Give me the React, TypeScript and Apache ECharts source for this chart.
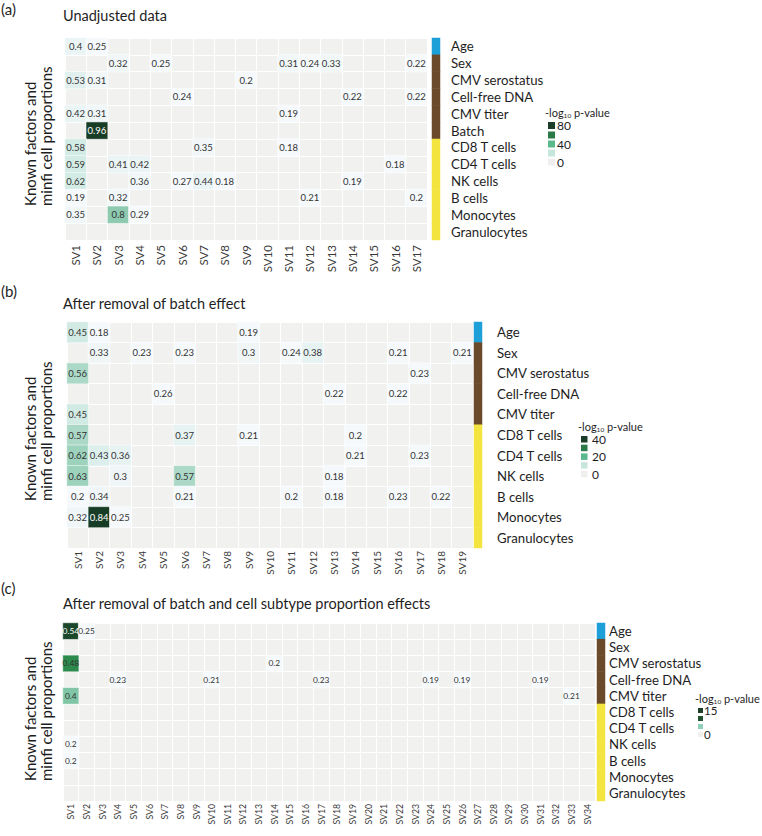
import React, { useEffect, useRef } from "react";
import * as echarts from "echarts";

// ---------- data ----------
const FACTORS_A = ["Age", "Sex", "CMV serostatus", "Cell-free DNA", "CMV titer", "Batch", "CD8 T cells", "CD4 T cells", "NK cells", "B cells", "Monocytes", "Granulocytes"];
const GROUPS_A = ["age", "known", "known", "known", "known", "known", "cell", "cell", "cell", "cell", "cell", "cell"];
const FACTORS_BC = ["Age", "Sex", "CMV serostatus", "Cell-free DNA", "CMV titer", "CD8 T cells", "CD4 T cells", "NK cells", "B cells", "Monocytes", "Granulocytes"];
const GROUPS_BC = ["age", "known", "known", "known", "known", "cell", "cell", "cell", "cell", "cell", "cell"];
const GROUP_KEYS = ["age", "known", "cell"];

const SV_A = ["SV1", "SV2", "SV3", "SV4", "SV5", "SV6", "SV7", "SV8", "SV9", "SV10", "SV11", "SV12", "SV13", "SV14", "SV15", "SV16", "SV17"];
const SV_B = ["SV1", "SV2", "SV3", "SV4", "SV5", "SV6", "SV7", "SV8", "SV9", "SV10", "SV11", "SV12", "SV13", "SV14", "SV15", "SV16", "SV17", "SV18", "SV19"];
const SV_C = ["SV1", "SV2", "SV3", "SV4", "SV5", "SV6", "SV7", "SV8", "SV9", "SV10", "SV11", "SV12", "SV13", "SV14", "SV15", "SV16", "SV17", "SV18", "SV19", "SV20", "SV21", "SV22", "SV23", "SV24", "SV25", "SV26", "SV27", "SV28", "SV29", "SV30", "SV31", "SV32", "SV33", "SV34"];

// [SV, factor, displayed value]
const CELLS_A: [string, string, number][] = [
  ["SV1", "Age", 0.4], ["SV2", "Age", 0.25],
  ["SV3", "Sex", 0.32], ["SV5", "Sex", 0.25], ["SV11", "Sex", 0.31], ["SV12", "Sex", 0.24], ["SV13", "Sex", 0.33], ["SV17", "Sex", 0.22],
  ["SV1", "CMV serostatus", 0.53], ["SV2", "CMV serostatus", 0.31], ["SV9", "CMV serostatus", 0.2],
  ["SV6", "Cell-free DNA", 0.24], ["SV14", "Cell-free DNA", 0.22], ["SV17", "Cell-free DNA", 0.22],
  ["SV1", "CMV titer", 0.42], ["SV2", "CMV titer", 0.31], ["SV11", "CMV titer", 0.19],
  ["SV2", "Batch", 0.96],
  ["SV1", "CD8 T cells", 0.58], ["SV7", "CD8 T cells", 0.35], ["SV11", "CD8 T cells", 0.18],
  ["SV1", "CD4 T cells", 0.59], ["SV3", "CD4 T cells", 0.41], ["SV4", "CD4 T cells", 0.42], ["SV16", "CD4 T cells", 0.18],
  ["SV1", "NK cells", 0.62], ["SV4", "NK cells", 0.36], ["SV6", "NK cells", 0.27], ["SV7", "NK cells", 0.44], ["SV8", "NK cells", 0.18], ["SV14", "NK cells", 0.19],
  ["SV1", "B cells", 0.19], ["SV3", "B cells", 0.32], ["SV12", "B cells", 0.21], ["SV17", "B cells", 0.2],
  ["SV1", "Monocytes", 0.35], ["SV3", "Monocytes", 0.8], ["SV4", "Monocytes", 0.29],
];

const CELLS_B: [string, string, number][] = [
  ["SV1", "Age", 0.45], ["SV2", "Age", 0.18], ["SV9", "Age", 0.19],
  ["SV2", "Sex", 0.33], ["SV4", "Sex", 0.23], ["SV6", "Sex", 0.23], ["SV9", "Sex", 0.3], ["SV11", "Sex", 0.24], ["SV12", "Sex", 0.38], ["SV16", "Sex", 0.21], ["SV19", "Sex", 0.21],
  ["SV1", "CMV serostatus", 0.56], ["SV17", "CMV serostatus", 0.23],
  ["SV5", "Cell-free DNA", 0.26], ["SV13", "Cell-free DNA", 0.22], ["SV16", "Cell-free DNA", 0.22],
  ["SV1", "CMV titer", 0.45],
  ["SV1", "CD8 T cells", 0.57], ["SV6", "CD8 T cells", 0.37], ["SV9", "CD8 T cells", 0.21], ["SV14", "CD8 T cells", 0.2],
  ["SV1", "CD4 T cells", 0.62], ["SV2", "CD4 T cells", 0.43], ["SV3", "CD4 T cells", 0.36], ["SV14", "CD4 T cells", 0.21], ["SV17", "CD4 T cells", 0.23],
  ["SV1", "NK cells", 0.63], ["SV3", "NK cells", 0.3], ["SV6", "NK cells", 0.57], ["SV13", "NK cells", 0.18],
  ["SV1", "B cells", 0.2], ["SV2", "B cells", 0.34], ["SV6", "B cells", 0.21], ["SV11", "B cells", 0.2], ["SV13", "B cells", 0.18], ["SV16", "B cells", 0.23], ["SV18", "B cells", 0.22],
  ["SV1", "Monocytes", 0.32], ["SV2", "Monocytes", 0.84], ["SV3", "Monocytes", 0.25],
];

const CELLS_C: [string, string, number][] = [
  ["SV1", "Age", 0.54], ["SV2", "Age", 0.25],
  ["SV1", "CMV serostatus", 0.48], ["SV14", "CMV serostatus", 0.2],
  ["SV4", "Cell-free DNA", 0.23], ["SV10", "Cell-free DNA", 0.21], ["SV17", "Cell-free DNA", 0.23], ["SV24", "Cell-free DNA", 0.19], ["SV26", "Cell-free DNA", 0.19], ["SV31", "Cell-free DNA", 0.19],
  ["SV1", "CMV titer", 0.4], ["SV33", "CMV titer", 0.21],
  ["SV1", "NK cells", 0.2],
  ["SV1", "B cells", 0.2],
];

const LEGEND_A = ["80", "40", "0"];
const LEGEND_B = ["40", "20", "0"];
const LEGEND_C = ["15", "0"];

// ---------- styles ----------
const FONT = "Lato, 'Noto Sans', sans-serif";
const BG = "#f1f2ef";
const GROUP_COLORS = ["#1d9fd8", "#6b4a2c", "#f4e440"];

const PIECES_A = [
  { lt: 0.3, color: "#f6f9fb" },
  { gte: 0.3, lt: 0.38, color: "#f1f7f8" },
  { gte: 0.38, lt: 0.5, color: "#eaf4f5" },
  { gte: 0.5, lt: 0.56, color: "#e1f0ef" },
  { gte: 0.56, lt: 0.7, color: "#d3ebe5" },
  { gte: 0.7, lt: 0.9, color: "#8dcab0" },
  { gte: 0.9, color: "#183d26" },
];
const PIECES_B = [
  { lt: 0.28, color: "#f6f9fb" },
  { gte: 0.28, lt: 0.35, color: "#f0f6f7" },
  { gte: 0.35, lt: 0.4, color: "#e7f2f3" },
  { gte: 0.4, lt: 0.44, color: "#dcefed" },
  { gte: 0.44, lt: 0.5, color: "#d2eae4" },
  { gte: 0.5, lt: 0.6, color: "#acd9c7" },
  { gte: 0.6, lt: 0.7, color: "#9dd2bd" },
  { gte: 0.7, color: "#183d26" },
];
const PIECES_C = [
  { lt: 0.3, color: "#f6f9fb" },
  { gte: 0.3, lt: 0.45, color: "#80c6a6" },
  { gte: 0.45, lt: 0.52, color: "#2c8a4d" },
  { gte: 0.52, color: "#1b472a" },
];

type Panel = {
  factors: string[];
  groups: string[];
  svs: string[];
  cells: [string, string, number][];
  grid: { left: number; top: number; width: number; height: number };
  bar: { left: number; width: number; labelMargin: number };
  xFont: number;
  xMargin: number;
  cellFont: number;
  whiteAt: number;
};

const PANELS: Panel[] = [
  { factors: FACTORS_A, groups: GROUPS_A, svs: SV_A, cells: CELLS_A, grid: { left: 65, top: 38, width: 362, height: 202 }, bar: { left: 432, width: 8, labelMargin: 11 }, xFont: 11.5, xMargin: 5, cellFont: 9.5, whiteAt: 0.9 },
  { factors: FACTORS_BC, groups: GROUPS_BC, svs: SV_B, cells: CELLS_B, grid: { left: 67, top: 322, width: 406, height: 226 }, bar: { left: 474, width: 8, labelMargin: 15 }, xFont: 10, xMargin: 3, cellFont: 9.5, whiteAt: 0.7 },
  { factors: FACTORS_BC, groups: GROUPS_BC, svs: SV_C, cells: CELLS_C, grid: { left: 63, top: 623, width: 532, height: 178 }, bar: { left: 597, width: 8, labelMargin: 4 }, xFont: 8.7, xMargin: 3, cellFont: 8.4, whiteAt: 0.52 },
];
const PIECES = [PIECES_A, PIECES_B, PIECES_C];

function buildOption() {
  const grid: any[] = [];
  const xAxis: any[] = [];
  const yAxis: any[] = [];
  const series: any[] = [];
  const visualMap: any[] = [];
  const barSeries: number[] = [];

  PANELS.forEach((p, k) => {
    const gi = k * 2;
    grid.push({ ...p.grid, show: true, backgroundColor: BG, borderWidth: 0 });
    grid.push({ left: p.bar.left, top: p.grid.top, width: p.bar.width, height: p.grid.height });
    const split = { show: true, interval: 0, lineStyle: { color: "#ffffff", width: 1 } };
    xAxis.push({
      type: "category", gridIndex: gi, data: p.svs,
      axisLine: { show: false }, axisTick: { show: false }, splitLine: split,
      axisLabel: { rotate: 90, interval: 0, fontSize: p.xFont, color: "#3a3a3a", fontFamily: FONT, margin: p.xMargin },
    });
    yAxis.push({
      type: "category", gridIndex: gi, data: p.factors, inverse: true,
      axisLine: { show: false }, axisTick: { show: false }, axisLabel: { show: false }, splitLine: split,
    });
    xAxis.push({ type: "category", gridIndex: gi + 1, data: ["group"], show: false });
    yAxis.push({
      type: "category", gridIndex: gi + 1, data: p.factors, inverse: true, position: "right",
      axisLine: { show: false }, axisTick: { show: false }, splitLine: { show: false },
      axisLabel: { interval: 0, margin: p.bar.labelMargin, fontSize: 13.2, color: "#1e1e1e", fontFamily: FONT },
    });
    const sIdx = series.length;
    series.push({
      type: "heatmap", xAxisIndex: gi, yAxisIndex: gi,
      data: p.cells.map(([sv, f, r]) => ({
        value: [p.svs.indexOf(sv), p.factors.indexOf(f), r],
        label: r >= p.whiteAt ? { color: "#ffffff" } : undefined,
      })),
      label: { show: true, fontSize: p.cellFont, color: "#333333", fontFamily: FONT, formatter: (d: any) => String(d.value[2]) },
      itemStyle: { borderColor: "#ffffff", borderWidth: 0.5 },
      emphasis: { disabled: true },
    });
    visualMap.push({ type: "piecewise", show: false, seriesIndex: sIdx, dimension: 2, pieces: PIECES[k] });
    barSeries.push(series.length);
    series.push({
      type: "heatmap", xAxisIndex: gi + 1, yAxisIndex: gi + 1,
      data: p.groups.map((g, i) => [0, i, GROUP_KEYS.indexOf(g)]),
      label: { show: false },
      itemStyle: { borderWidth: 0 },
      emphasis: { disabled: true },
    });
  });
  visualMap.push({
    type: "piecewise", show: false, seriesIndex: barSeries, dimension: 2,
    pieces: GROUP_COLORS.map((c, i) => ({ value: i, color: c })),
  });

  const txt = (text: string, x: number, y: number, size: number, extra: any = {}) => ({
    type: "text", x, y, silent: true,
    style: { text, fontSize: size, fontFamily: FONT, fill: "#1e1e1e", textAlign: "left", align: "left", textVerticalAlign: "middle", verticalAlign: "middle", ...extra },
  });

  const graphic: any[] = [];
  graphic.push(txt("(a)", 1, 9, 15));
  graphic.push(txt("Unadjusted data", 63, 15, 14.5));
  graphic.push(txt("(b)", 1, 291, 15));
  graphic.push(txt("After removal of batch effect", 63, 303, 14.5));
  graphic.push(txt("(c)", 1, 588, 15));
  graphic.push(txt("After removal of batch and cell subtype proportion effects", 63, 603, 14.5));
  const yTitle = (bottom: number) => ({
    type: "text", x: 38, y: bottom, rotation: Math.PI / 2, silent: true,
    style: { text: "Known factors and\nminfi cell proportions", fontSize: 15, lineHeight: 16.5, fontFamily: FONT, fill: "#1e1e1e", textAlign: "left", align: "left", textVerticalAlign: "middle", verticalAlign: "middle" },
  });
  graphic.push(yTitle(206), yTitle(501), yTitle(781));

  const legend = (x: number, titleY: number, sq: number, ys: number[], colors: string[], labels: string[], labelRows: number[], labelX: number, fs: number) => {
    graphic.push({
      type: "text", x: x - 3, y: titleY, silent: true,
      style: { text: "-log{s|10} p-value", fontSize: 11, fontFamily: FONT, fill: "#1e1e1e", textAlign: "left", align: "left", textVerticalAlign: "middle", verticalAlign: "middle", rich: { s: { fontSize: 6.5, fontFamily: FONT, padding: [6, 0, 0, 0] } } },
    });
    ys.forEach((y, i) => graphic.push({ type: "rect", silent: true, shape: { x, y, width: sq, height: sq }, style: { fill: colors[i] } }));
    labels.forEach((l, i) => graphic.push(txt(l, labelX, ys[labelRows[i]] + sq / 2, fs)));
  };
  legend(548, 112, 7, [122, 131.5, 140.5, 149.5, 158.5], ["#1c3d27", "#2a7a47", "#5ab88d", "#c7e6db", "#efefee"], LEGEND_A, [0, 2, 4], 557, 12);
  legend(581, 426, 6.5, [436, 444.7, 453.4, 462.1, 470.8], ["#1c3d27", "#2a7a47", "#5ab88d", "#c7e6db", "#efefee"], LEGEND_B, [0, 2, 4], 592, 12);
  legend(698, 698, 5, [708, 716, 724, 732], ["#1f3f2a", "#21502f", "#8fd0b8", "#efefee"], LEGEND_C, [0, 3], 704, 11.5);

  return { animation: false, backgroundColor: "#ffffff", grid, xAxis, yAxis, series, visualMap, graphic };
}

export default function App() {
  const ref = useRef<HTMLDivElement>(null);
  useEffect(() => {
    if (!ref.current) return;
    const chart = echarts.init(ref.current, undefined, { renderer: "svg" });
    chart.setOption(buildOption() as any);
    return () => chart.dispose();
  }, []);
  return <div ref={ref} style={{ position: "fixed", left: 0, top: 0, width: 762, height: 836, background: "#fff" }} />;
}
